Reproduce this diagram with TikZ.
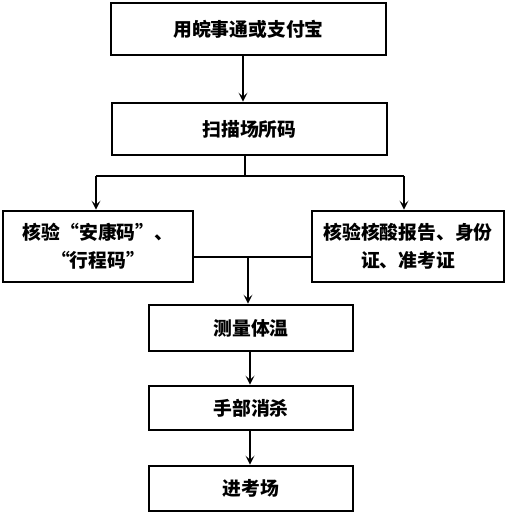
\documentclass[tikz,border=0pt]{standalone}
\usepackage{fontspec}
\newfontfamily\cjk{Noto Sans CJK SC}
\usetikzlibrary{arrows.meta}
\begin{document}
\begin{tikzpicture}[x=1pt,y=-1pt,
  box/.style={draw,line width=2.6pt,inner sep=0pt,align=center,
    font=\cjk\bfseries\fontsize{18.8pt}{28pt}\selectfont},
  conn/.style={line width=1.8pt},
  arr/.style={conn,-{Stealth[length=9pt,width=9pt,inset=4pt]}}]
\useasboundingbox (0,0) rectangle (506,514);
\node[box,minimum width=275pt,minimum height=52pt] (b1) at (248.5,29) {用皖事通或支付宝};
\node[box,minimum width=275pt,minimum height=52pt] (b2) at (249.5,129) {扫描场所码};
\node[box,minimum width=190pt,minimum height=71pt] (bl) at (98,246.5) {核验“安康码”、\\“行程码”};
\node[box,minimum width=192pt,minimum height=71pt] (br) at (408,246.5) {核验核酸报告、身份\\证、准考证};
\node[box,minimum width=204pt,minimum height=46pt] (b4) at (251,328) {测量体温};
\node[box,minimum width=204pt,minimum height=44pt] (b5) at (251,408) {手部消杀};
\node[box,minimum width=204pt,minimum height=45pt] (b6) at (251,488.5) {进考场};
\coordinate (s1) at (245,176);
\coordinate (sl) at (96,176);
\coordinate (sr) at (404,176);
\coordinate (m) at (248,257);
\draw[arr] (b1.south -| 243,0) -- (b2.north -| 243,0);
\draw[conn] (b2.south -| s1) -- (s1);
\draw[conn] (sl) -- (sr);
\draw[arr] (sl) -- (bl.north -| sl);
\draw[arr] (sr) -- (br.north -| sr);
\draw[conn] (bl.east |- m) -- (br.west |- m);
\draw[arr] (m) -- (b4.north -| m);
\draw[arr] (b4.south -| 250,0) -- (b5.north -| 250,0);
\draw[arr] (b5.south -| 250,0) -- (b6.north -| 250,0);
\end{tikzpicture}
\end{document}
